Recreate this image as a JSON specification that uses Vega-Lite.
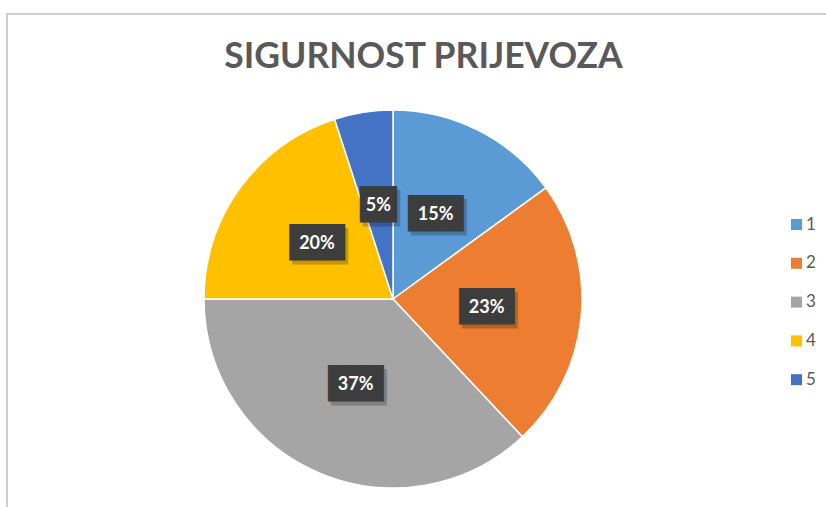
{
  "$schema": "https://vega.github.io/schema/vega-lite/v6.json",
  "width": 823,
  "height": 497,
  "autosize": {"type": "none"},
  "padding": {"left": 7, "top": 14, "right": -4, "bottom": -4},
  "background": "white",
  "view": {"stroke": "#bfbfbf", "strokeWidth": 1.5},
  "title": {
    "text": "SIGURNOST PRIJEVOZA",
    "font": "Lato",
    "fontSize": 35.5,
    "fontWeight": "bold",
    "color": "#595959",
    "anchor": "middle",
    "dx": 5,
    "offset": -89,
    "baseline": "alphabetic"
  },
  "data": {
    "values": [
      {"ocjena": "1", "udio": 0.15},
      {"ocjena": "2", "udio": 0.23},
      {"ocjena": "3", "udio": 0.37},
      {"ocjena": "4", "udio": 0.20},
      {"ocjena": "5", "udio": 0.05}
    ]
  },
  "encoding": {
    "theta": {"field": "udio", "type": "quantitative", "stack": true},
    "order": {"field": "ocjena", "type": "ordinal"}
  },
  "layer": [
    {
      "mark": {"type": "arc", "x": 386, "y": 285, "outerRadius": 189, "stroke": "white", "strokeWidth": 1.5},
      "encoding": {
        "color": {
          "field": "ocjena",
          "type": "nominal",
          "scale": {"domain": ["1", "2", "3", "4", "5"], "range": ["#5B9BD5", "#ED7D31", "#A5A5A5", "#FFC000", "#4472C4"]},
          "legend": {
            "orient": "none",
            "legendX": 781,
            "legendY": 202,
            "title": null,
            "symbolType": "square",
            "symbolSize": 121,
            "symbolStrokeWidth": 0,
            "labelFont": "Lato",
            "labelFontSize": 17,
            "labelColor": "#595959",
            "labelOffset": 1,
            "rowPadding": 20.8
          }
        }
      }
    },
    {
      "mark": {"type": "text", "x": 386, "y": 285, "radius": 94, "font": "DejaVu Sans Mono", "fontSize": 30.6, "color": "#000000", "opacity": 0.22, "dx": 3, "dy": 4, "baseline": "middle", "align": "center"},
      "encoding": {
        "text": {"condition": {"test": "datum.udio < 0.1", "value": "██"}, "value": "███"}
      }
    },
    {
      "mark": {"type": "text", "x": 386, "y": 285, "radius": 94, "font": "DejaVu Sans Mono", "fontSize": 30.6, "color": "#3d3d3d", "baseline": "middle", "align": "center"},
      "encoding": {
        "text": {"condition": {"test": "datum.udio < 0.1", "value": "██"}, "value": "███"}
      }
    },
    {
      "mark": {"type": "text", "x": 386, "y": 285, "radius": 94, "font": "Lato", "fontSize": 18, "fontWeight": "bold", "color": "white", "baseline": "middle", "align": "center"},
      "encoding": {
        "text": {"field": "udio", "type": "quantitative", "format": ".0%"}
      }
    }
  ]
}
